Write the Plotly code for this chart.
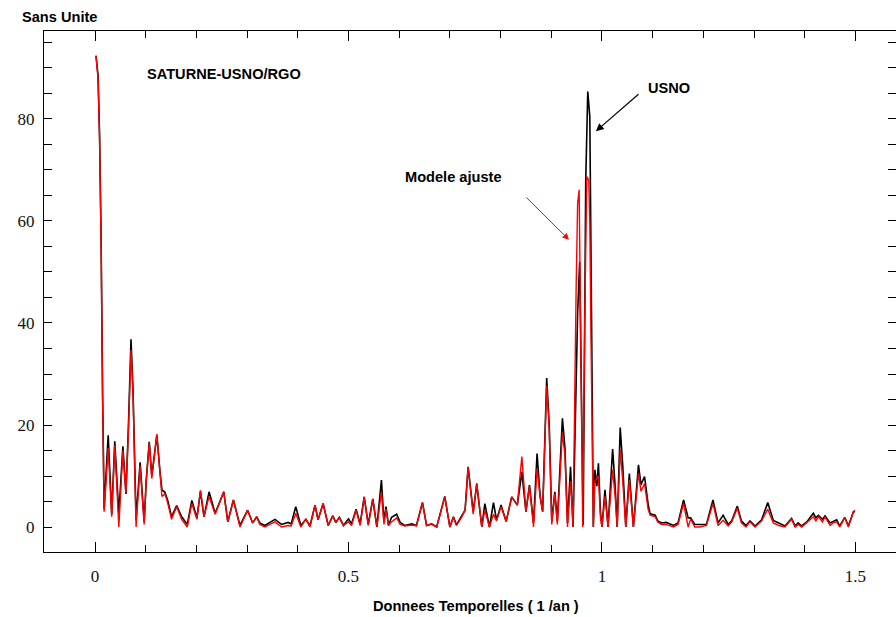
import plotly.graph_objects as go

# USNO periodogram (frequency in 1/yr, amplitude without unit)
freq_usno = [0.002, 0.006, 0.009, 0.012, 0.015, 0.018, 0.026, 0.033, 0.039, 0.047,
             0.055, 0.061, 0.066, 0.071, 0.075, 0.081, 0.089, 0.097, 0.101, 0.107,
             0.112, 0.122, 0.128, 0.132, 0.138, 0.144, 0.151, 0.161, 0.171, 0.182,
             0.191, 0.201, 0.208, 0.215, 0.225, 0.237, 0.254, 0.262, 0.273, 0.286,
             0.301, 0.311, 0.319, 0.325, 0.335, 0.355, 0.368, 0.381, 0.387, 0.396,
             0.406, 0.416, 0.424, 0.434, 0.440, 0.450, 0.460, 0.469, 0.475, 0.482,
             0.490, 0.500, 0.506, 0.515, 0.523, 0.531, 0.539, 0.548, 0.556, 0.565,
             0.570, 0.574, 0.579, 0.585, 0.595, 0.602, 0.611, 0.625, 0.634, 0.646,
             0.654, 0.664, 0.674, 0.690, 0.700, 0.707, 0.713, 0.723, 0.730, 0.736,
             0.746, 0.753, 0.763, 0.769, 0.778, 0.786, 0.792, 0.801, 0.811, 0.822,
             0.833, 0.842, 0.850, 0.857, 0.865, 0.872, 0.878, 0.883, 0.891, 0.896,
             0.901, 0.907, 0.912, 0.922, 0.927, 0.932, 0.938, 0.943, 0.949, 0.952,
             0.956, 0.959, 0.963, 0.968, 0.972, 0.976, 0.978, 0.980, 0.983, 0.986,
             0.990, 0.993, 0.997, 1.000, 1.006, 1.012, 1.021, 1.026, 1.030, 1.036,
             1.041, 1.047, 1.054, 1.062, 1.072, 1.077, 1.084, 1.091, 1.095, 1.105,
             1.110, 1.118, 1.127, 1.141, 1.150, 1.161, 1.170, 1.175, 1.179, 1.183,
             1.193, 1.206, 1.219, 1.229, 1.239, 1.249, 1.256, 1.267, 1.275, 1.284,
             1.292, 1.302, 1.315, 1.327, 1.338, 1.349, 1.361, 1.374, 1.381, 1.387,
             1.394, 1.404, 1.417, 1.422, 1.427, 1.435, 1.440, 1.450, 1.456, 1.463,
             1.469, 1.479, 1.486, 1.496, 1.499]
amp_usno = [92.4, 88.5, 77.0, 57.0, 26.0, 3.5, 18.0, 2.5, 16.8, 2.5,
            15.8, 6.5, 20.0, 36.8, 27.0, 1.5, 12.7, 1.0, 9.0, 16.7,
            10.0, 18.0, 11.0, 7.3, 6.8, 5.0, 2.0, 4.2, 2.0, 0.5,
            5.2, 1.8, 7.0, 2.0, 6.9, 2.7, 6.9, 1.0, 5.3, 0.3,
            3.3, 0.8, 2.0, 0.8, 0.3, 1.5, 0.5, 0.9, 0.6, 4.0,
            0.3, 1.5, 0.2, 4.3, 1.4, 4.6, 0.3, 2.2, 0.9, 1.9,
            0.3, 1.6, 0.6, 3.5, 0.6, 5.9, 0.5, 5.5, 0.0, 9.2,
            1.0, 4.0, 0.3, 1.9, 2.5, 0.9, 0.3, 0.6, 0.3, 4.8,
            0.3, 0.6, 0.0, 6.0, 0.0, 2.0, 0.4, 2.1, 3.3, 11.8,
            3.0, 8.4, 0.0, 4.6, 0.0, 4.8, 1.4, 4.3, 1.1, 5.9,
            4.3, 10.8, 3.0, 8.2, 0.8, 14.4, 6.0, 3.0, 29.2, 20.0,
            1.1, 6.9, 1.1, 21.3, 15.5, 0.8, 11.8, 0.0, 27.0, 42.0,
            52.0, 30.0, 0.4, 68.0, 85.4, 80.5, 60.0, 30.0, 0.0, 11.2,
            8.0, 12.5, 3.0, 0.0, 7.3, 0.0, 15.3, 8.0, 0.0, 19.5,
            12.0, 0.0, 10.5, 0.0, 12.2, 8.3, 9.9, 4.5, 2.6, 2.3,
            1.2, 0.8, 0.9, 0.3, 0.8, 5.3, 1.8, 1.8, 1.1, 0.5,
            0.5, 0.5, 5.3, 0.8, 2.3, 0.5, 1.2, 4.1, 1.2, 0.3,
            1.2, 0.2, 1.4, 4.8, 1.3, 0.8, 0.2, 1.7, 0.2, 0.8,
            0.2, 1.0, 2.7, 1.8, 2.3, 1.5, 2.2, 0.8, 1.1, 1.4,
            0.2, 1.9, 0.2, 3.0, 3.0]

# Fitted model spectrum
freq_model = [0.002, 0.006, 0.009, 0.012, 0.015, 0.018, 0.026, 0.033, 0.039, 0.047,
              0.055, 0.061, 0.066, 0.071, 0.075, 0.081, 0.089, 0.097, 0.101, 0.107,
              0.112, 0.122, 0.128, 0.132, 0.138, 0.144, 0.151, 0.161, 0.171, 0.182,
              0.191, 0.201, 0.208, 0.215, 0.225, 0.237, 0.254, 0.262, 0.273, 0.286,
              0.301, 0.311, 0.319, 0.325, 0.335, 0.355, 0.368, 0.381, 0.387, 0.396,
              0.406, 0.416, 0.424, 0.434, 0.440, 0.450, 0.460, 0.469, 0.475, 0.482,
              0.490, 0.500, 0.506, 0.515, 0.523, 0.531, 0.539, 0.548, 0.556, 0.565,
              0.570, 0.574, 0.579, 0.585, 0.595, 0.602, 0.611, 0.625, 0.634, 0.646,
              0.654, 0.664, 0.674, 0.690, 0.700, 0.707, 0.713, 0.723, 0.730, 0.736,
              0.746, 0.753, 0.763, 0.769, 0.778, 0.786, 0.792, 0.801, 0.811, 0.822,
              0.833, 0.842, 0.850, 0.857, 0.865, 0.872, 0.878, 0.883, 0.891, 0.896,
              0.901, 0.907, 0.912, 0.922, 0.927, 0.932, 0.938, 0.943, 0.949, 0.952,
              0.955, 0.958, 0.962, 0.966, 0.968, 0.970, 0.974, 0.976, 0.978, 0.983,
              0.986, 0.993, 0.997, 1.000, 1.006, 1.012, 1.021, 1.026, 1.030, 1.036,
              1.041, 1.047, 1.054, 1.062, 1.072, 1.077, 1.084, 1.091, 1.095, 1.105,
              1.110, 1.118, 1.127, 1.141, 1.150, 1.161, 1.170, 1.175, 1.179, 1.183,
              1.193, 1.206, 1.219, 1.229, 1.239, 1.249, 1.256, 1.267, 1.275, 1.284,
              1.292, 1.302, 1.315, 1.327, 1.338, 1.349, 1.361, 1.374, 1.381, 1.387,
              1.394, 1.404, 1.417, 1.422, 1.427, 1.435, 1.440, 1.450, 1.456, 1.463,
              1.469, 1.479, 1.486, 1.496, 1.499]
amp_model = [92.4, 88.0, 76.0, 56.0, 25.0, 3.0, 15.5, 2.0, 16.0, 0.0,
             15.0, 6.7, 19.0, 34.7, 26.0, 0.0, 12.0, 0.5, 9.0, 16.5,
             9.5, 18.2, 11.0, 6.0, 6.5, 4.5, 1.5, 4.0, 1.5, 0.0,
             4.6, 1.5, 7.2, 2.0, 6.0, 2.5, 6.9, 1.0, 5.3, 0.0,
             3.3, 0.8, 2.0, 0.5, 0.0, 1.0, 0.0, 0.3, 0.2, 2.7,
             0.0, 1.6, 0.0, 4.3, 1.4, 4.6, 0.3, 2.2, 0.9, 1.9,
             0.3, 1.0, 0.3, 3.3, 0.3, 5.9, 0.3, 5.5, 0.0, 6.9,
             0.5, 3.5, 0.3, 1.0, 1.8, 0.5, 0.2, 0.4, 0.2, 4.8,
             0.3, 0.6, 0.0, 5.9, 0.0, 1.9, 0.3, 1.9, 3.3, 11.7,
             2.5, 8.6, 0.0, 3.3, 0.0, 2.5, 1.2, 4.0, 1.1, 5.9,
             4.3, 13.8, 3.0, 8.0, 0.0, 11.5, 6.0, 3.0, 27.7, 19.0,
             0.5, 6.5, 0.5, 18.5, 14.0, 0.0, 9.0, 0.0, 46.5, 63.5,
             66.1, 40.0, 0.0, 40.0, 55.0, 68.7, 68.0, 60.0, 40.0, 0.0,
             9.0, 10.0, 2.0, 0.0, 6.0, 0.0, 11.2, 6.0, 0.0, 15.1,
             9.0, 0.0, 9.2, 0.0, 10.5, 7.0, 8.5, 3.5, 2.3, 2.0,
             1.0, 0.5, 0.5, 0.0, 0.5, 4.6, 0.0, 1.6, 0.8, 0.0,
             0.0, 0.3, 4.6, 0.3, 1.3, 0.2, 1.0, 3.7, 0.8, 0.0,
             1.0, 0.0, 1.2, 3.5, 0.8, 0.3, 0.0, 1.5, 0.0, 0.5,
             0.0, 0.8, 2.0, 1.2, 2.0, 1.0, 2.0, 0.3, 0.8, 1.0,
             0.0, 1.9, 0.0, 3.0, 3.3]

x_ticks = [0, 0.5, 1, 1.5]
x_tick_text = ["0", "0.5", "1", "1.5"]
y_ticks = [0, 20, 40, 60, 80]
y_tick_text = ["0", "20", "40", "60", "80"]

TITLE_FONT = "Liberation Sans Narrow, Arial Narrow, Liberation Sans, Arial, sans-serif"
TICK_FONT = "Liberation Serif, DejaVu Serif, serif"

fig = go.Figure()
fig.add_trace(go.Scatter(x=freq_usno, y=amp_usno, mode="lines",
                         line=dict(color="#000000", width=1.6), name="USNO"))
fig.add_trace(go.Scatter(x=freq_model, y=amp_model, mode="lines",
                         line=dict(color="#ff0000", width=1.4), name="Modele ajuste"))

axis_common = dict(showline=True, linecolor="#000000", linewidth=1.2, mirror="ticks",
                   ticks="inside", tickcolor="#000000", showgrid=False, zeroline=False,
                   tickfont=dict(family=TICK_FONT, size=17, color="#111111"))

fig.update_xaxes(range=[-0.1006, 1.58], tickvals=x_ticks, ticktext=x_tick_text,
                 ticklen=10, tickwidth=1.2, ticklabelstandoff=8,
                 minor=dict(ticks="inside", dtick=0.1, tick0=0, ticklen=7,
                            tickcolor="#000000", tickwidth=1.2),
                 **axis_common)
fig.update_yaxes(range=[-4.9, 97.25], tickvals=y_ticks, ticktext=y_tick_text,
                 ticklen=8, tickwidth=1.2, ticklabelstandoff=5,
                 minor=dict(ticks="inside", dtick=5, tick0=0, ticklen=8,
                            tickcolor="#000000", tickwidth=1.2),
                 **axis_common)

bold = dict(family=TITLE_FONT, size=14.6, color="#000000")
annotations = [
    dict(text="<b>Sans Unite</b>", xref="paper", yref="paper", x=-0.0282, y=1.027,
         xanchor="left", yanchor="middle", showarrow=False, font=bold),
    dict(text="<b>SATURNE-USNO/RGO</b>", xref="x", yref="y", x=0.0986, y=88.8,
         xanchor="left", yanchor="middle", showarrow=False, font=bold),
    dict(text="<b>USNO</b>", xref="x", yref="y", x=1.087, y=86.1,
         xanchor="left", yanchor="middle", showarrow=False, font=bold),
    dict(text="<b>Modele ajuste</b>", xref="x", yref="y", x=0.6075, y=68.6,
         xanchor="left", yanchor="middle", showarrow=False, font=bold),
    dict(text="<b>Donnees Temporelles ( 1 /an )</b>", xref="paper", yref="paper",
         x=0.507, y=-0.1036, xanchor="center", yanchor="middle", showarrow=False,
         font=bold),
    # arrow pointing at the USNO peak
    dict(text="", xref="x", yref="y", x=0.988, y=77.6, axref="x", ayref="y",
         ax=1.075, ay=85.1, showarrow=True, arrowhead=2, arrowsize=1.3,
         arrowwidth=1.2, arrowcolor="#000000"),
    # arrow pointing at the fitted model peak
    dict(text="", xref="x", yref="y", x=0.935, y=56.3, axref="x", ayref="y",
         ax=0.848, ay=64.9, showarrow=True, arrowhead=2, arrowsize=1.3,
         arrowwidth=1, arrowcolor="#ff0000"),
]

fig.update_layout(width=896, height=617, margin=dict(l=44, r=0, t=31, b=65),
                  paper_bgcolor="#ffffff", plot_bgcolor="#ffffff",
                  showlegend=False, annotations=annotations)

fig.write_html("out.html")
